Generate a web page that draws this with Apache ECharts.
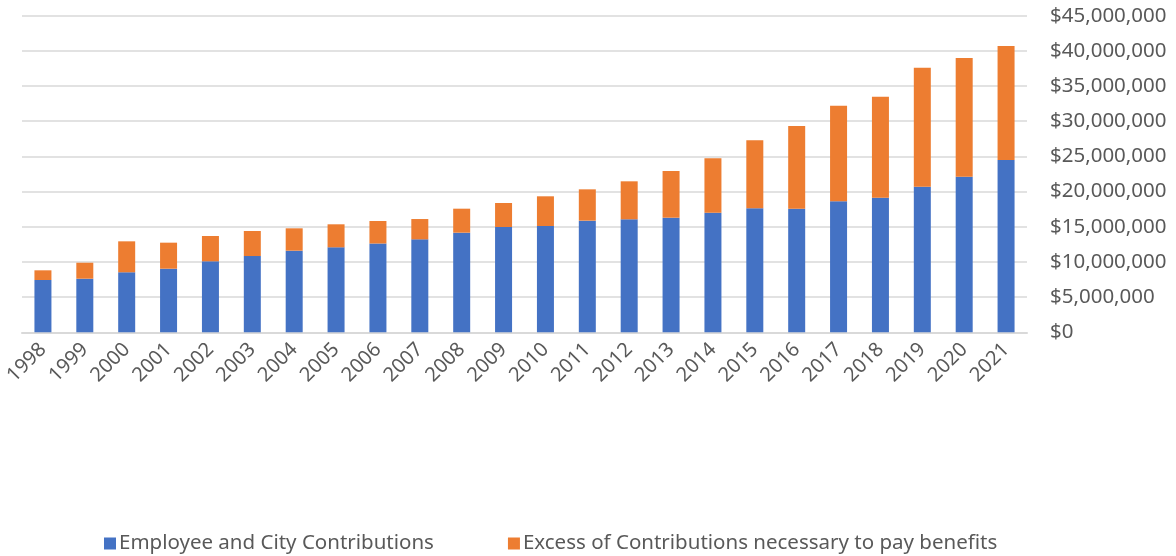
<!DOCTYPE html>
<html>
<head>
<meta charset="utf-8">
<script src="https://cdn.jsdelivr.net/npm/echarts@6/dist/echarts.min.js"></script>
<style>html,body{margin:0;padding:0;background:#fff}#c{width:1176px;height:556px}</style>
</head>
<body>
<div id="c"></div>
<script>
const years = ['1998','1999','2000','2001','2002','2003','2004','2005','2006','2007','2008','2009','2010','2011','2012','2013','2014','2015','2016','2017','2018','2019','2020','2021'];
const employeeCity = [7.43,7.62,8.53,9.04,10.09,10.84,11.60,12.08,12.62,13.21,14.16,14.97,15.11,15.87,16.06,16.29,16.98,17.62,17.57,18.62,19.13,20.70,22.12,24.49];
const excess = [1.38,2.27,4.40,3.70,3.60,3.56,3.18,3.27,3.20,2.89,3.41,3.41,4.22,4.45,5.40,6.64,7.77,9.67,11.75,13.59,14.36,16.91,16.87,16.20];
const seriesNames = ['Employee and City Contributions','Excess of Contributions necessary to pay benefits'];
const M = 1000000;

const font = 'Noto Sans';
const txt = '#595959';
const chart = echarts.init(document.getElementById('c'), null, {renderer:'canvas'});
chart.setOption({
  animation:false,
  textStyle:{fontFamily:font},
  grid:{left:22,right:149,top:15.7,bottom:223.7,containLabel:false},
  legend:{
    left:99, top:528, itemWidth:12, itemHeight:12, itemGap:74,
    icon:'rect',
    textStyle:{fontFamily:font,fontSize:20.5,color:txt,padding:[0,0,0,-2]},
    data:seriesNames
  },
  xAxis:{
    type:'category', data:years,
    axisLine:{lineStyle:{color:'#d9d9d9',width:2}},
    axisTick:{show:false},
    axisLabel:{rotate:45,fontSize:20,color:txt,margin:14,fontFamily:font,interval:0}
  },
  yAxis:{
    type:'value', position:'right', min:0, max:45*M, interval:5*M,
    axisLine:{show:false}, axisTick:{show:false},
    splitLine:{lineStyle:{color:'#d9d9d9',width:1.5}},
    axisLabel:{fontSize:20.5,color:txt,margin:23,fontFamily:font,
      formatter:v=>'$'+v.toLocaleString('en-US')}
  },
  series:[
    {name:seriesNames[0],type:'bar',stack:'t',barWidth:17,
     itemStyle:{color:'#4472C4'},data:employeeCity.map(v=>Math.round(v*M))},
    {name:seriesNames[1],type:'bar',stack:'t',barWidth:17,
     itemStyle:{color:'#ED7D31'},data:excess.map(v=>Math.round(v*M))}
  ]
});
</script>
</body>
</html>
